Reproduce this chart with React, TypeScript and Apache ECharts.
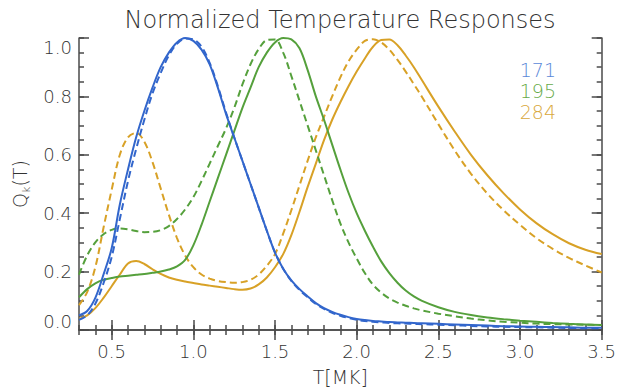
import React, { useEffect, useRef } from "react";
import * as echarts from "echarts";

// Temperature grid (MK)
const T = [
  0.3, 0.35, 0.4, 0.45, 0.5, 0.55, 0.6, 0.65, 0.7, 0.75, 0.8, 0.85, 0.9, 0.95, 1.0,
  1.05, 1.1, 1.15, 1.2, 1.25, 1.3, 1.35, 1.4, 1.45, 1.5, 1.55, 1.6, 1.65, 1.7, 1.75,
  1.8, 1.85, 1.9, 1.95, 2.0, 2.05, 2.1, 2.15, 2.2, 2.25, 2.3, 2.35, 2.4,
  2.5, 2.6, 2.7, 2.8, 2.9, 3.0, 3.1, 3.2, 3.3, 3.4, 3.5,
];

const q171Solid = [
  0.05, 0.065, 0.11, 0.19, 0.28, 0.43, 0.55, 0.66, 0.75, 0.83, 0.9, 0.95, 0.985, 1.0, 0.99,
  0.96, 0.91, 0.83, 0.74, 0.66, 0.58, 0.5, 0.42, 0.34, 0.265, 0.21, 0.17, 0.14, 0.115, 0.092,
  0.075, 0.062, 0.052, 0.044, 0.038, 0.034, 0.031, 0.029, 0.027, 0.026, 0.025, 0.024, 0.023,
  0.021, 0.019, 0.017, 0.015, 0.013, 0.012, 0.011, 0.01, 0.009, 0.008, 0.008,
];
const q171Dashed = [
  0.035, 0.05, 0.09, 0.16, 0.25, 0.38, 0.51, 0.62, 0.72, 0.81, 0.88, 0.94, 0.98, 0.998, 0.995,
  0.97, 0.915, 0.835, 0.745, 0.66, 0.58, 0.5, 0.42, 0.34, 0.265, 0.21, 0.168, 0.137, 0.112, 0.089,
  0.072, 0.059, 0.049, 0.041, 0.035, 0.031, 0.028, 0.026, 0.024, 0.023, 0.022, 0.021, 0.02,
  0.018, 0.016, 0.014, 0.012, 0.011, 0.01, 0.009, 0.008, 0.007, 0.006, 0.006,
];
const q195Solid = [
  0.112, 0.14, 0.16, 0.172, 0.178, 0.183, 0.186, 0.189, 0.192, 0.196, 0.2, 0.207, 0.218, 0.24, 0.29,
  0.36, 0.44, 0.52, 0.6, 0.68, 0.76, 0.83, 0.9, 0.95, 0.985, 1.0, 0.995, 0.965, 0.89, 0.8,
  0.72, 0.635, 0.55, 0.47, 0.4, 0.34, 0.285, 0.235, 0.195, 0.162, 0.135, 0.115, 0.1,
  0.078, 0.062, 0.051, 0.043, 0.037, 0.032, 0.028, 0.024, 0.021, 0.019, 0.017,
];
const q195Dashed = [
  0.19, 0.255, 0.3, 0.328, 0.343, 0.348, 0.345, 0.339, 0.335, 0.336, 0.342, 0.356, 0.38, 0.413, 0.455,
  0.51, 0.57, 0.63, 0.69, 0.76, 0.84, 0.91, 0.962, 0.993, 0.995, 0.95, 0.87, 0.785, 0.7, 0.615,
  0.53, 0.445, 0.365, 0.3, 0.245, 0.195, 0.155, 0.128, 0.108, 0.094, 0.083, 0.074, 0.067,
  0.056, 0.047, 0.039, 0.033, 0.028, 0.025, 0.022, 0.02, 0.019, 0.018, 0.017,
];
const q284Solid = [
  0.038, 0.05, 0.075, 0.11, 0.15, 0.19, 0.228, 0.236, 0.226, 0.208, 0.192, 0.18, 0.172, 0.166, 0.161,
  0.156, 0.152, 0.148, 0.144, 0.14, 0.138, 0.142, 0.156, 0.18, 0.215, 0.26, 0.325, 0.405, 0.49, 0.57,
  0.65, 0.72, 0.78, 0.835, 0.885, 0.93, 0.97, 0.993, 0.995, 0.975, 0.94, 0.9, 0.855,
  0.765, 0.68, 0.6, 0.53, 0.468, 0.413, 0.366, 0.328, 0.297, 0.275, 0.26,
];
const q284Dashed = [
  0.085, 0.13, 0.215, 0.35, 0.48, 0.6, 0.66, 0.675, 0.645, 0.575, 0.485, 0.395, 0.315, 0.255, 0.215,
  0.19, 0.176, 0.168, 0.164, 0.162, 0.164, 0.172, 0.19, 0.22, 0.26, 0.33, 0.41, 0.495, 0.58, 0.66,
  0.73, 0.8, 0.865, 0.92, 0.96, 0.99, 0.996, 0.985, 0.96, 0.925, 0.885, 0.842, 0.798,
  0.705, 0.615, 0.535, 0.467, 0.41, 0.36, 0.315, 0.278, 0.247, 0.221, 0.197,
];

const xMajorTicks = [0.5, 1.0, 1.5, 2.0, 2.5, 3.0, 3.5];
const yMajorTicks = [0, 0.2, 0.4, 0.6, 0.8, 1.0];
const channelLabels = ["171", "195", "284"];

const BLUE = "#3266cc";
const GREEN = "#55a03c";
const GOLD = "#d8a126";
const LABEL_COLORS = ["#5a88d8", "#66aa48", "#d9a83c"];
const FRAME = "#4a4a4a";
const TEXT = "#333333";
const FONT = "DejaVu Sans";

export default function App() {
  const ref = useRef<HTMLDivElement>(null);

  useEffect(() => {
    if (!ref.current) return;
    const chart = echarts.init(ref.current, null, { renderer: "svg" });

    const pts = (arr: number[]) => T.map((t, i) => [t, arr[i]]);
    const lineSeries = (name: string, arr: number[], color: string, dashed: boolean) => ({
      name,
      type: "line",
      data: pts(arr),
      smooth: 0.35,
      showSymbol: false,
      xAxisIndex: 0,
      yAxisIndex: 0,
      lineStyle: { color, width: 2, type: dashed ? [7, 4] : "solid" },
      emphasis: { disabled: true },
    });

    const isMultiple = (v: number, step: number) =>
      Math.abs(v / step - Math.round(v / step)) < 1e-6;

    const lineStyle = { color: FRAME, width: 1.5 };
    const xBase = {
      type: "value",
      min: 0.3,
      max: 3.5,
      gridIndex: 0,
      splitLine: { show: false },
    };
    const yBase = {
      type: "value",
      min: 0,
      max: 1,
      gridIndex: 0,
      splitLine: { show: false },
    };

    chart.setOption({
      animation: false,
      backgroundColor: "#ffffff",
      title: {
        text: "Normalized Temperature Responses",
        left: 335,
        top: 3,
        textAlign: "center",
        textStyle: { fontFamily: FONT, fontSize: 24, fontWeight: 200, color: TEXT },
      },
      grid: { left: 79, right: 14, top: 38, bottom: 58, containLabel: false },
      xAxis: [
        {
          ...xBase,
          position: "bottom",
          interval: 0.1,
          axisLine: { show: true, lineStyle },
          axisTick: { show: true, inside: true, length: 5, lineStyle },
          axisLabel: {
            show: true,
            margin: 12,
            fontFamily: FONT,
            fontWeight: 200,
            fontSize: 18,
            color: TEXT,
            formatter: (v: number) => (isMultiple(v, 0.5) ? v.toFixed(1) : ""),
          },
          name: "T[MK]",
          nameLocation: "middle",
          nameGap: 37,
          nameTextStyle: { fontFamily: FONT, fontWeight: 200, fontSize: 19, color: TEXT },
        },
        {
          ...xBase,
          position: "bottom",
          axisLine: { show: false },
          axisTick: { show: true, inside: true, length: 10, lineStyle, customValues: xMajorTicks },
          axisLabel: { show: false },
        },
        {
          ...xBase,
          position: "top",
          interval: 0.1,
          axisLine: { show: true, lineStyle },
          axisTick: { show: true, inside: true, length: 5, lineStyle },
          axisLabel: { show: false },
        },
        {
          ...xBase,
          position: "top",
          axisLine: { show: false },
          axisTick: { show: true, inside: true, length: 10, lineStyle, customValues: xMajorTicks },
          axisLabel: { show: false },
        },
      ],
      yAxis: [
        {
          ...yBase,
          position: "left",
          interval: 0.05,
          axisLine: { show: true, lineStyle },
          axisTick: { show: true, inside: true, length: 5, lineStyle },
          axisLabel: {
            show: true,
            margin: 7,
            fontFamily: FONT,
            fontWeight: 200,
            fontSize: 18,
            color: TEXT,
            verticalAlignMinLabel: "bottom",
            verticalAlignMaxLabel: "top",
            formatter: (v: number) => (isMultiple(v, 0.2) ? v.toFixed(1) : ""),
          },
          name: "Q{k|k}(T)",
          nameLocation: "middle",
          nameGap: 42,
          nameTextStyle: {
            fontFamily: FONT,
            fontWeight: 200,
            fontSize: 19,
            lineHeight: 24,
            color: TEXT,
            rich: {
              k: {
                fontFamily: FONT,
                fontWeight: 200,
                fontSize: 11,
                lineHeight: 11,
                verticalAlign: "bottom",
                color: TEXT,
              },
            },
          },
        },
        {
          ...yBase,
          position: "left",
          axisLine: { show: false },
          axisTick: { show: true, inside: true, length: 10, lineStyle, customValues: yMajorTicks },
          axisLabel: { show: false },
        },
        {
          ...yBase,
          position: "right",
          interval: 0.05,
          axisLine: { show: true, lineStyle },
          axisTick: { show: true, inside: true, length: 5, lineStyle },
          axisLabel: { show: false },
        },
        {
          ...yBase,
          position: "right",
          axisLine: { show: false },
          axisTick: { show: true, inside: true, length: 10, lineStyle, customValues: yMajorTicks },
          axisLabel: { show: false },
        },
      ],
      graphic: channelLabels.map((label, i) => ({
        type: "text",
        x: 556,
        y: 70 + i * 21,
        style: {
          text: label,
          fill: LABEL_COLORS[i],
          font: `200 19px "${FONT}"`,
          align: "right",
          verticalAlign: "middle",
          textAlign: "right",
          textVerticalAlign: "middle",
        },
      })),
      series: [
        lineSeries("284 dashed", q284Dashed, GOLD, true),
        lineSeries("284", q284Solid, GOLD, false),
        lineSeries("195 dashed", q195Dashed, GREEN, true),
        lineSeries("195", q195Solid, GREEN, false),
        lineSeries("171 dashed", q171Dashed, BLUE, true),
        lineSeries("171", q171Solid, BLUE, false),
      ],
    });

    return () => chart.dispose();
  }, []);

  return (
    <div
      ref={ref}
      style={{ position: "absolute", left: 0, top: 0, width: 619, height: 391 }}
    />
  );
}
